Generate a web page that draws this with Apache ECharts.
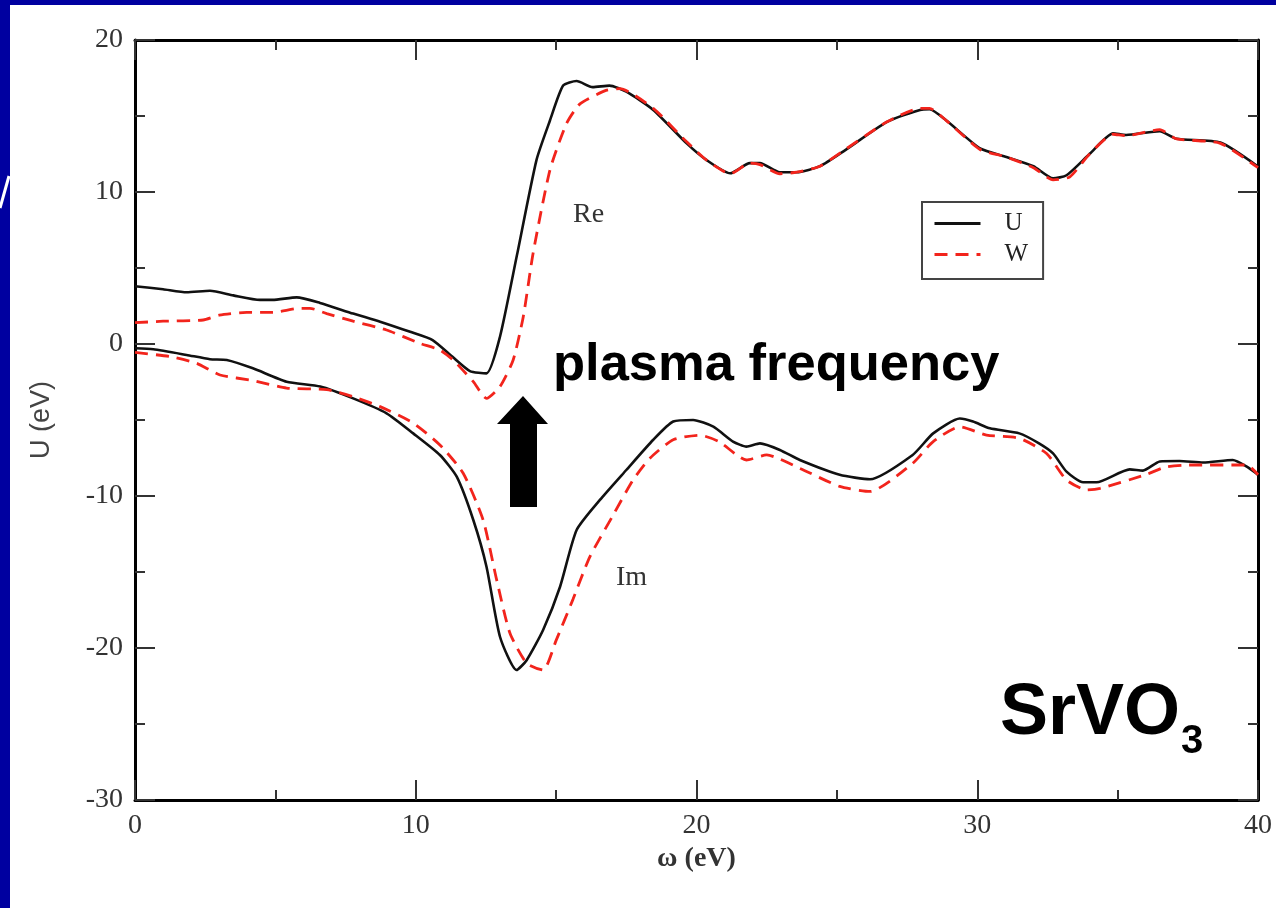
<!DOCTYPE html>
<html>
<head>
<meta charset="utf-8">
<script src="https://cdn.jsdelivr.net/npm/echarts@6/dist/echarts.min.js"></script>
<style>
html,body{margin:0;padding:0;background:#fff;}
#chart{width:1276px;height:908px;}
</style>
</head>
<body>
<div id="chart"></div>
<script>
// Re part of U (black solid)
const reU = [[0,3.8],[1,3.6],[1.84,3.4],[2.67,3.5],[3.5,3.2],[4.45,2.9],[4.9,2.9],[5.76,3.07],[6.59,2.7],[7.77,2.0],[8.73,1.47],[9.8,0.8],[10.6,0.26],[11.3,-0.83],[11.93,-1.78],[12.52,-1.93],[13.0,0.48],[13.6,5.8],[14.3,12.1],[14.78,14.7],[15.25,17.0],[15.73,17.3],[16.3,16.9],[16.9,17.0],[17.5,16.6],[18.46,15.4],[19.65,13.2],[20.36,12.1],[21.2,11.23],[21.9,11.9],[22.26,11.9],[22.97,11.3],[23.57,11.3],[24.4,11.7],[25.3,12.76],[26.77,14.6],[27.96,15.4],[28.3,15.44],[28.9,14.7],[30.1,12.87],[31.04,12.3],[32.0,11.7],[32.7,10.9],[33.18,11.1],[34.0,12.5],[34.84,13.86],[35.3,13.75],[36.5,14.0],[37.1,13.5],[38.66,13.25],[40,11.67]];
// Re part of W (red dashed)
const reW = [[0,1.4],[1,1.5],[2.43,1.58],[3.0,1.9],[3.98,2.08],[4.9,2.08],[5.88,2.35],[6.23,2.35],[6.83,2.0],[7.77,1.5],[8.96,0.92],[10.15,0.04],[10.86,-0.4],[11.33,-1.05],[12.05,-2.48],[12.52,-3.58],[13.0,-2.8],[13.47,-1.05],[13.83,1.8],[14.18,5.97],[14.78,11.45],[15.37,14.5],[15.85,15.8],[16.8,16.7],[17.27,16.8],[18.46,15.5],[19.65,13.3],[20.36,12.1],[21.2,11.2],[21.9,11.9],[22.26,11.8],[22.97,11.2],[23.57,11.3],[24.4,11.7],[25.3,12.8],[26.77,14.6],[27.96,15.5],[28.3,15.5],[28.9,14.7],[30.1,12.8],[31.04,12.3],[32.0,11.6],[32.7,10.8],[33.3,11.0],[34.0,12.5],[34.84,13.8],[35.3,13.7],[36.5,14.1],[37.1,13.5],[38.66,13.2],[40,11.6]];
// Im part of U (black solid)
const imU = [[0,-0.28],[0.65,-0.35],[1.84,-0.72],[2.67,-1.0],[3.27,-1.05],[4.2,-1.6],[5.4,-2.48],[6.6,-2.8],[7.77,-3.58],[8.96,-4.56],[9.91,-5.88],[10.86,-7.3],[11.46,-8.73],[12.05,-11.58],[12.52,-14.65],[13.0,-19.26],[13.59,-21.45],[13.95,-20.8],[14.54,-18.8],[15.14,-15.97],[15.73,-12.24],[16.56,-10.26],[17.5,-8.29],[18.46,-6.3],[19.17,-5.1],[19.88,-5.0],[20.6,-5.44],[21.3,-6.42],[21.78,-6.75],[22.26,-6.54],[22.97,-6.97],[23.68,-7.63],[25.1,-8.6],[26.18,-8.9],[27.7,-7.3],[28.43,-5.88],[29.38,-4.9],[29.85,-5.1],[30.45,-5.55],[31.5,-5.88],[32.2,-6.54],[32.7,-7.2],[33.18,-8.4],[33.77,-9.1],[34.25,-9.1],[35.43,-8.25],[35.9,-8.33],[36.5,-7.73],[37.2,-7.7],[38.05,-7.8],[39.1,-7.63],[39.6,-8.07],[40,-8.6]];
// Im part of W (red dashed)
const imW = [[0,-0.55],[1.25,-0.83],[2.2,-1.27],[3.03,-2.04],[4.2,-2.4],[5.4,-2.9],[6.83,-3.0],[7.77,-3.47],[8.73,-4.12],[9.91,-5.2],[10.86,-6.64],[11.69,-8.5],[12.4,-11.58],[12.88,-15.5],[13.35,-19.0],[13.95,-21.0],[14.54,-21.45],[15.0,-19.5],[15.6,-16.8],[16.2,-14.0],[17.0,-11.36],[17.74,-8.95],[18.34,-7.52],[19.17,-6.3],[20.12,-6.0],[20.8,-6.42],[21.78,-7.63],[22.5,-7.3],[23.68,-8.18],[25.1,-9.37],[26.18,-9.7],[27.7,-7.85],[28.43,-6.42],[29.38,-5.44],[30.33,-5.99],[31.5,-6.2],[32.47,-7.2],[33.18,-8.95],[33.9,-9.6],[34.37,-9.5],[36.0,-8.6],[36.7,-8.1],[37.5,-7.96],[39.6,-7.96],[40,-8.6]];

const xRange = [0, 40];
const yRange = [-30, 20];
const seriesNames = ['U', 'W'];

const serif = 'Liberation Serif';
const sans = 'Liberation Sans';
const BLACK = '#111';
const RED = '#f2241c';

const chart = echarts.init(document.getElementById('chart'), null, {renderer: 'canvas'});

function axisBase(extra) {
  return Object.assign({
    type: 'value',
    interval: 10,
    axisLine: {show: true, onZero: false, lineStyle: {color: '#000', width: 3}},
    axisTick: {show: true, inside: true, length: 20, lineStyle: {color: '#333', width: 2}},
    minorTick: {show: true, splitNumber: 2, length: 10, lineStyle: {color: '#333', width: 2}},
    splitLine: {show: false},
    minorSplitLine: {show: false}
  }, extra);
}

const option = {
  backgroundColor: '#fff',
  animation: false,
  grid: {left: 135, right: 18, top: 40, bottom: 108, containLabel: false},
  legend: {
    orient: 'vertical',
    left: 922, top: 202,
    padding: [9, 15, 12, 11],
    itemWidth: 46, itemHeight: 14, itemGap: 6,
    borderColor: '#444', borderWidth: 2,
    backgroundColor: '#fff',
    data: seriesNames,
    itemStyle: {opacity: 0, borderWidth: 0},
    lineStyle: {width: 3},
    textStyle: {fontFamily: serif, fontSize: 25, color: '#222', lineHeight: 24, padding: [0, 0, 0, 19]}
  },
  xAxis: [
    axisBase({
      min: xRange[0], max: xRange[1], position: 'bottom',
      name: 'ω (eV)', nameLocation: 'middle', nameGap: 45,
      nameTextStyle: {fontFamily: serif, fontSize: 28, fontWeight: 'bold', color: '#333', verticalAlign: 'top'},
      axisLabel: {fontFamily: serif, fontSize: 28, color: '#333', margin: 12}
    }),
    axisBase({min: xRange[0], max: xRange[1], position: 'top', axisLabel: {show: false}})
  ],
  yAxis: [
    axisBase({
      min: yRange[0], max: yRange[1], position: 'left',
      name: 'U (eV)', nameLocation: 'middle', nameGap: 80, nameRotate: 90,
      nameTextStyle: {fontFamily: sans, fontSize: 27, color: '#444'},
      axisLabel: {fontFamily: serif, fontSize: 28, color: '#333', margin: 12}
    }),
    axisBase({min: yRange[0], max: yRange[1], position: 'right', axisLabel: {show: false}})
  ],
  series: [
    {name: 'U', type: 'line', data: reU, symbol: 'none', smooth: 0.2, lineStyle: {color: BLACK, width: 2.6}, itemStyle: {color: BLACK}, z: 2},
    {name: 'U', type: 'line', data: imU, symbol: 'none', smooth: 0.2, lineStyle: {color: BLACK, width: 2.6}, itemStyle: {color: BLACK}, z: 2},
    {name: 'W', type: 'line', data: reW, symbol: 'none', smooth: 0.2, lineStyle: {color: RED, width: 2.8, type: [13, 8]}, itemStyle: {color: RED}, z: 3},
    {name: 'W', type: 'line', data: imW, symbol: 'none', smooth: 0.2, lineStyle: {color: RED, width: 2.8, type: [13, 8]}, itemStyle: {color: RED}, z: 3}
  ],
  graphic: [
    {type: 'rect', left: 0, top: 0, shape: {width: 1276, height: 5}, style: {fill: '#0000a0'}, z: 100},
    {type: 'rect', left: 0, top: 0, shape: {width: 10, height: 908}, style: {fill: '#0000a0'}, z: 100},
    {type: 'line', shape: {x1: 0, y1: 208, x2: 9, y2: 176}, style: {stroke: '#fff', lineWidth: 3}, z: 101},
    {type: 'text', x: 573, y: 215, style: {text: 'Re', fontFamily: serif, fontSize: 28, fill: '#333', verticalAlign: 'middle'}, z: 50},
    {type: 'text', x: 616, y: 578, style: {text: 'Im', fontFamily: serif, fontSize: 28, fill: '#333', verticalAlign: 'middle'}, z: 50},
    {type: 'text', x: 553, y: 366, style: {text: 'plasma frequency', fontFamily: sans, fontWeight: 'bold', fontSize: 52.5, fill: '#000', verticalAlign: 'middle'}, z: 50},
    {type: 'text', x: 1000, y: 714, style: {text: 'SrVO', fontFamily: sans, fontWeight: 'bold', fontSize: 72, fill: '#000', verticalAlign: 'middle'}, z: 50},
    {type: 'text', x: 1181, y: 742, style: {text: '3', fontFamily: sans, fontWeight: 'bold', fontSize: 40, fill: '#000', verticalAlign: 'middle'}, z: 50},
    {type: 'polygon', shape: {points: [[523,396],[548,424],[537,424],[537,507],[510,507],[510,424],[497,424]]}, style: {fill: '#000'}, z: 50}
  ]
};
chart.setOption(option);
</script>
</body>
</html>
